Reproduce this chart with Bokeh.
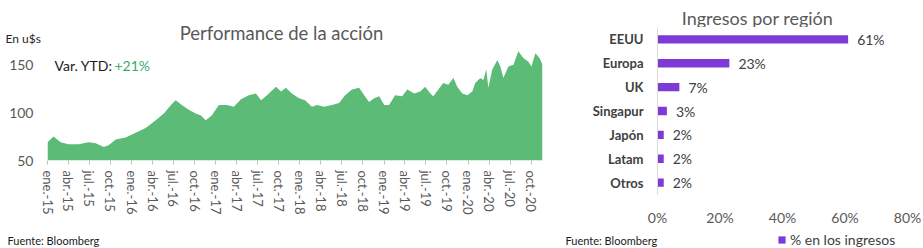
import pandas as pd
from bokeh.plotting import figure
from bokeh.layouts import row, column
from bokeh.models import (FixedTicker, Label, Legend, LegendItem, ColumnDataSource,
                          LabelSet, Range1d, FactorRange, PrintfTickFormatter)
from bokeh.core.properties import value
from bokeh.embed import file_html
from bokeh.resources import INLINE

# ---------------- data ----------------
price_dates = [
    "2015-01-01", "2015-01-27", "2015-02-27", "2015-04-02", "2015-05-16", "2015-06-28",
    "2015-07-29", "2015-09-02", "2015-09-23", "2015-10-24", "2015-12-06", "2016-01-19",
    "2016-03-02", "2016-04-15", "2016-05-20", "2016-06-10", "2016-06-28", "2016-07-11",
    "2016-08-06", "2016-09-05", "2016-10-06", "2016-10-28", "2016-11-18", "2016-12-14",
    "2017-01-14", "2017-02-18", "2017-03-20", "2017-04-20", "2017-05-24", "2017-06-24",
    "2017-07-16", "2017-08-11", "2017-09-19", "2017-10-11", "2017-11-01", "2017-11-27",
    "2017-12-28", "2018-01-23", "2018-02-22", "2018-03-16", "2018-04-16", "2018-05-20",
    "2018-06-20", "2018-07-16", "2018-08-15", "2018-09-15", "2018-10-07", "2018-10-28",
    "2018-11-19", "2018-12-11", "2019-01-02", "2019-01-23", "2019-02-18", "2019-03-21",
    "2019-04-12", "2019-05-12", "2019-06-07", "2019-06-29", "2019-07-21", "2019-08-03",
    "2019-08-25", "2019-09-15", "2019-10-07", "2019-10-29", "2019-11-15", "2019-12-07",
    "2019-12-29", "2020-01-19", "2020-02-01", "2020-02-23", "2020-03-07", "2020-03-20",
    "2020-03-29", "2020-04-15", "2020-05-07", "2020-05-20", "2020-06-02", "2020-06-24",
    "2020-07-16", "2020-08-06", "2020-08-28", "2020-09-19", "2020-10-02", "2020-10-19",
    "2020-11-06", "2020-11-19",
]
price_values = [
    69, 75, 69, 67, 67, 69,
    68, 64, 66, 72, 74, 79,
    84, 92, 99, 105, 110, 113,
    108, 103, 99, 97, 92, 97,
    108, 108, 106, 114, 118, 120,
    113, 118, 127, 122, 126, 120,
    115, 113, 106, 108, 106, 108,
    110, 118, 124, 126, 118, 111,
    115, 117, 108, 108, 118, 117,
    124, 120, 122, 127, 120, 117,
    124, 131, 129, 136, 127, 120,
    118, 122, 131, 136, 134, 145,
    126, 145, 155, 148, 136, 148,
    150, 164, 157, 153, 148, 162,
    157, 150,
]
tick_dates = [
    "2015-01-01", "2015-04-01", "2015-07-01", "2015-10-01",
    "2016-01-01", "2016-04-01", "2016-07-01", "2016-10-01",
    "2017-01-01", "2017-04-01", "2017-07-01", "2017-10-01",
    "2018-01-01", "2018-04-01", "2018-07-01", "2018-10-01",
    "2019-01-01", "2019-04-01", "2019-07-01", "2019-10-01",
    "2020-01-01", "2020-04-01", "2020-07-01", "2020-10-01",
]
tick_labels = [
    "ene.-15", "abr.-15", "jul.-15", "oct.-15",
    "ene.-16", "abr.-16", "jul.-16", "oct.-16",
    "ene.-17", "abr.-17", "jul.-17", "oct.-17",
    "ene.-18", "abr.-18", "jul.-18", "oct.-18",
    "ene.-19", "abr.-19", "jul.-19", "oct.-19",
    "ene.-20", "abr.-20", "jul.-20", "oct.-20",
]
y_ticks = [50, 100, 150]

regions = ["EEUU", "Europa", "UK", "Singapur", "Japón", "Latam", "Otros"]
shares = [61, 23, 7, 3, 2, 2, 2]
share_ticks = [0, 20, 40, 60, 80]

FONT = "Lato"
GREEN = "#5DBB78"
PURPLE = "#7E3AD6"
DARK = "#404040"
GRAY = "#595959"
BLACK = "#1a1a1a"


def lab(fig, text, x, y, size, color=DARK, align="left", baseline="middle"):
    fig.add_layout(Label(x=x, y=y, x_units="screen", y_units="screen", text=text,
                         text_font=FONT, text_font_size=size, text_color=color,
                         text_align=align, text_baseline=baseline))


def strip(width, height):
    """A text-only strip: its frame fills the whole canvas."""
    f = figure(width=width, height=height, output_backend="svg", toolbar_location=None,
               x_range=Range1d(0, width), y_range=Range1d(0, height),
               x_axis_location=None, y_axis_location=None,
               min_border_left=0, min_border_right=0, min_border_top=0, min_border_bottom=0)
    f.frame_align = False
    f.grid.visible = False
    f.outline_line_color = None
    f.title.visible = False
    return f


# ---------------- left: performance ----------------
origin = pd.Timestamp("2015-01-01")
xdays = [(pd.Timestamp(d) - origin).days for d in price_dates]
tdays = [(pd.Timestamp(d) - origin).days for d in tick_dates]
src = ColumnDataSource(dict(x=xdays, y=price_values))

head_l = strip(557, 45)
lab(head_l, "Performance de la acción", 281, 45 - 32, "18.5px", GRAY, "center", "alphabetic")
lab(head_l, "En u$s", 5, 45 - 38, "12px", "#262626")

p = figure(width=557, height=183, output_backend="svg", toolbar_location=None,
           x_range=Range1d(0, xdays[-1]), y_range=Range1d(50, 170),
           min_border_left=47, min_border_right=15, min_border_top=0, min_border_bottom=68)
p.frame_align = False
p.title.visible = False
p.varea(x="x", y1=50, y2="y", source=src, fill_color=GREEN, fill_alpha=1)
p.xgrid.visible = False
p.ygrid.visible = False
p.outline_line_color = None

p.xaxis.ticker = FixedTicker(ticks=tdays)
p.xaxis.major_label_overrides = {d: l for d, l in zip(tdays, tick_labels)}
p.xaxis.major_label_orientation = "vertical"
p.xaxis.axis_line_color = None
p.xaxis.major_tick_line_color = "#bfbfbf"
p.xaxis.major_tick_out = 4
p.xaxis.major_tick_in = 0
p.xaxis.minor_tick_line_color = None
p.xaxis.major_label_text_font = FONT
p.xaxis.major_label_text_font_size = "13px"
p.xaxis.major_label_text_color = GRAY
p.xaxis.major_label_standoff = 6

p.yaxis.ticker = FixedTicker(ticks=y_ticks)
p.yaxis.axis_line_color = None
p.yaxis.major_tick_line_color = None
p.yaxis.major_tick_out = 0
p.yaxis.minor_tick_line_color = None
p.yaxis.major_label_text_font = FONT
p.yaxis.major_label_text_font_size = "14px"
p.yaxis.major_label_text_color = GRAY
p.yaxis.major_label_standoff = 14

# in-frame (frame: left=47, bottom at page y=160)
lab(p, "Var. YTD:", 54 - 47, 160 - 65, "14px", BLACK)
lab(p, "+21%", 114 - 47, 160 - 65, "14px", "#3EA86A")

# ---------------- right: revenue by region ----------------
head_r = strip(366, 27)
lab(head_r, "Ingresos por región", 757 - 557, 27 - 17, "18px", GRAY, "center", "alphabetic")

bsrc = ColumnDataSource(dict(region=regions, share=shares,
                             txt=[f"{v}%" for v in shares]))
q = figure(width=366, height=201, output_backend="svg", toolbar_location=None,
           y_range=FactorRange(factors=list(reversed(regions))), x_range=Range1d(0, 80),
           min_border_left=100, min_border_right=16, min_border_top=0, min_border_bottom=33)
q.frame_align = False
q.title.visible = False
q.hbar(y="region", right="share", left=0, height=0.35, source=bsrc,
       fill_color=PURPLE, line_color=None)
q.add_layout(LabelSet(x="share", y="region", text="txt", source=bsrc, x_offset=9,
                      text_baseline="middle", text_font=value(FONT),
                      text_font_size="14px", text_color=DARK))
q.xgrid.visible = False
q.ygrid.visible = False
q.outline_line_color = None
q.y_range.range_padding = 0

q.xaxis.ticker = FixedTicker(ticks=share_ticks)
q.xaxis.formatter = PrintfTickFormatter(format="%d%%")
q.xaxis.axis_line_color = None
q.xaxis.major_tick_line_color = None
q.xaxis.major_tick_out = 0
q.xaxis.minor_tick_line_color = None
q.xaxis.major_label_text_font = FONT
q.xaxis.major_label_text_font_size = "14px"
q.xaxis.major_label_text_color = GRAY
q.xaxis.major_label_standoff = 14

q.yaxis.axis_line_color = "#d9d9d9"
q.yaxis.major_tick_line_color = None
q.yaxis.major_tick_out = 0
q.yaxis.minor_tick_line_color = None
q.yaxis.major_label_text_font = FONT
q.yaxis.major_label_text_font_size = "13px"
q.yaxis.major_label_text_font_style = "bold"
q.yaxis.major_label_text_color = DARK
q.yaxis.major_label_standoff = 14

# ---------------- footer: sources + legend ----------------
foot = strip(923, 20)
lab(foot, "Fuente: Bloomberg", 7, 8, "11px", BLACK)
lab(foot, "Fuente: Bloomberg", 565, 8, "11px", BLACK)
# legend key renderer: a zero-size bar, only its style is used by the legend swatch
key = foot.hbar(y=[0], right=[0], left=0, height=0, fill_color=PURPLE, line_color=None)
legend = Legend(items=[LegendItem(label="% en los ingresos", renderers=[key])],
                location=(777, 0), orientation="horizontal",
                glyph_width=9, glyph_height=9, label_standoff=4, label_height=14,
                padding=0, margin=0, spacing=0,
                border_line_color=None, background_fill_alpha=0,
                label_text_font=FONT, label_text_font_size="14px", label_text_color=DARK)
foot.add_layout(legend)

layout = column(row(column(head_l, p), column(head_r, q)), foot)
open("out.html", "w").write(file_html(layout, INLINE))
